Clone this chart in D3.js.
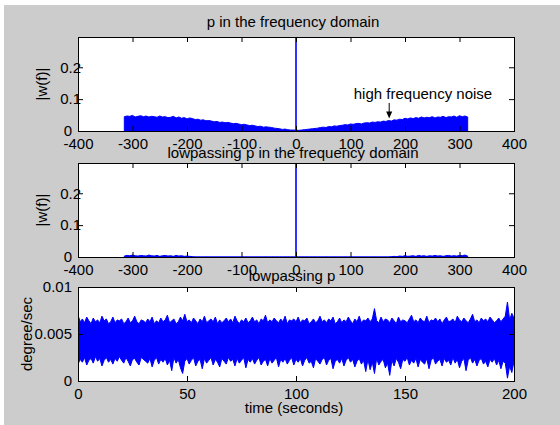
<!DOCTYPE html>
<html>
<head>
<meta charset="utf-8">
<script src="https://cdn.jsdelivr.net/npm/d3@7"></script>
<style>
  body { margin: 0; background: #fff; }
  svg { display: block; font-family: "Liberation Sans", Arial, sans-serif; }
</style>
</head>
<body>
<script>
// ---- data ----
// |w(f)| of p, every 5 Hz going out from 0 (f = 5, 10, ... 315)
const specPos = [
  .002, .003, .004, .005, .006, .007, .008, .009, .011, .012,
  .011, .014, .013, .016, .015, .017, .018, .020, .019, .022,
  .021, .023, .024, .022, .025, .026, .025, .028, .027, .029,
  .028, .031, .030, .033, .031, .035, .034, .037, .036, .040,
  .038, .041, .039, .042, .040, .044, .041, .043, .042, .045,
  .041, .044, .043, .046, .042, .045, .044, .047, .043, .048,
  .045, .047, .044
];
const specNeg = [
  .003, .003, .004, .006, .005, .007, .008, .009, .011, .012,
  .013, .012, .015, .014, .016, .018, .017, .019, .021, .020,
  .022, .024, .023, .025, .027, .026, .028, .027, .030, .029,
  .031, .033, .032, .035, .034, .037, .036, .039, .041, .038,
  .042, .040, .044, .041, .046, .043, .042, .045, .044, .047,
  .043, .045, .046, .044, .047, .045, .048, .046, .044, .049,
  .046, .047, .045
];
// after lowpass, same frequency grid
const lowPos = [
  0, 0, 0, 0, 0, 0, 0, 0, 0, 0,
  0, 0, 0, 0, 0, 0, 0, 0, 0, 0,
  0, 0, 0, 0, 0, 0, 0, 0, 0, 0,
  0, 0, 0, 0, .001, .002, .001, .003, .002, .004,
  .002, .003, .004, .002, .005, .003, .004, .002, .004, .003,
  .005, .003, .004, .002, .004, .005, .003, .004, .003, .005,
  .004, .006, .003
];
const lowNeg = [
  0, 0, 0, 0, 0, 0, 0, 0, 0, 0,
  0, 0, 0, 0, 0, 0, 0, 0, 0, 0,
  0, 0, 0, 0, 0, 0, 0, 0, 0, 0,
  0, 0, 0, 0, 0, 0, 0, .001, .002, .003,
  .002, .004, .003, .005, .002, .004, .003, .005, .004, .002,
  .005, .003, .004, .006, .003, .004, .005, .003, .004, .006,
  .004, .005, .003
];
const dcPeak = 0.62;   // spike at f = 0, runs off the top

// lowpassing p, band edges per second (t = 0 .. 200)
const hiVals = [
  .0070, .0063, .0066, .0062, .0068, .0064, .0061, .0067, .0063, .0065,
  .0062, .0069, .0064, .0066, .0061, .0063, .0068, .0062, .0065, .0064,
  .0066, .0061, .0063, .0067, .0062, .0064, .0069, .0063, .0061, .0065,
  .0064, .0062, .0066, .0063, .0068, .0061, .0064, .0062, .0067, .0063,
  .0065, .0070, .0062, .0064, .0066, .0061, .0063, .0068, .0064, .0071,
  .0063, .0065, .0062, .0067, .0064, .0061, .0066, .0063, .0069, .0062,
  .0064, .0066, .0063, .0068, .0061, .0065, .0062, .0064, .0067, .0063,
  .0066, .0062, .0069, .0064, .0061, .0065, .0063, .0067, .0062, .0064,
  .0068, .0063, .0065, .0061, .0066, .0064, .0070, .0062, .0065, .0063,
  .0067, .0064, .0062, .0066, .0063, .0069, .0061, .0065, .0064, .0066,
  .0063, .0068, .0062, .0065, .0064, .0067, .0061, .0063, .0066, .0062,
  .0064, .0069, .0063, .0065, .0062, .0066, .0064, .0068, .0061, .0063,
  .0067, .0062, .0065, .0063, .0068, .0064, .0061, .0066, .0063, .0069,
  .0062, .0065, .0064, .0067, .0063, .0066, .0077, .0064, .0062, .0068,
  .0063, .0066, .0065, .0062, .0067, .0064, .0061, .0068, .0063, .0065,
  .0064, .0062, .0066, .0070, .0063, .0065, .0062, .0067, .0064, .0063,
  .0069, .0062, .0065, .0064, .0067, .0063, .0066, .0061, .0065, .0068,
  .0063, .0064, .0066, .0062, .0069, .0065, .0063, .0067, .0064, .0062,
  .0066, .0071, .0063, .0065, .0062, .0067, .0064, .0066, .0063, .0068,
  .0065, .0062, .0064, .0067, .0063, .0066, .0069, .0084, .0065, .0072,
  .0067
];
const loVals = [
  .0018, .0023, .0020, .0025, .0017, .0022, .0024, .0019, .0026, .0021,
  .0024, .0016, .0022, .0025, .0020, .0023, .0018, .0024, .0021, .0026,
  .0022, .0019, .0025, .0021, .0016, .0023, .0024, .0020, .0017, .0025,
  .0023, .0021, .0019, .0024, .0015, .0022, .0025, .0018, .0023, .0020,
  .0024, .0017, .0022, .0011, .0025, .0019, .0023, .0014, .0008, .0021,
  .0024, .0018, .0022, .0025, .0016, .0021, .0023, .0013, .0024, .0019,
  .0022, .0025, .0017, .0023, .0020, .0015, .0024, .0021, .0018, .0025,
  .0021, .0023, .0016, .0024, .0019, .0022, .0025, .0014, .0023, .0020,
  .0024, .0018, .0022, .0025, .0017, .0021, .0023, .0016, .0024, .0019,
  .0022, .0025, .0015, .0023, .0020, .0024, .0018, .0022, .0025, .0017,
  .0023, .0020, .0024, .0016, .0022, .0025, .0019, .0021, .0014, .0024,
  .0021, .0018, .0023, .0025, .0017, .0022, .0024, .0013, .0021, .0023,
  .0019, .0024, .0016, .0022, .0025, .0020, .0023, .0015, .0021, .0024,
  .0018, .0022, .0010, .0023, .0012, .0020, .0008, .0024, .0017, .0021,
  .0023, .0014, .0019, .0006, .0022, .0016, .0024, .0020, .0013, .0023,
  .0021, .0025, .0017, .0022, .0019, .0024, .0015, .0023, .0020, .0018,
  .0024, .0013, .0022, .0025, .0018, .0021, .0023, .0016, .0024, .0020,
  .0022, .0017, .0025, .0019, .0023, .0014, .0021, .0024, .0011, .0022,
  .0025, .0019, .0023, .0016, .0022, .0024, .0018, .0021, .0015, .0023,
  .0020, .0024, .0017, .0022, .0013, .0021, .0019, .0003, .0016, .0009,
  .0021
];

const freqTicks = [-400, -300, -200, -100, 0, 100, 200, 300, 400];
const magTicks = [0, 0.1, 0.2];
const timeTicks = [0, 50, 100, 150, 200];
const rateTicks = [0, 0.005, 0.01];

const titles = ['p in the frequency domain', 'lowpassing p in the frequency domain', 'lowpassing p'];
const noteText = 'high frequency noise';
const note = { x: 106, y: 0.1, arrowF: 171, arrowFrom: 0.088, arrowTo: 0.039 };

// ---- layout ----
const W = 560, H = 425;
const left = 78, right = 514;
const fs = 15;

const svg = d3.select('body').append('svg')
  .attr('width', W)
  .attr('height', H);

svg.append('rect')
  .attr('x', 4).attr('y', 5)
  .attr('width', W - 4).attr('height', H - 5)
  .attr('fill', '#cccccc');

const xf = d3.scaleLinear().domain([-400, 400]).range([left, right]);
const xt = d3.scaleLinear().domain([0, 200]).range([left, right]);
const y1 = d3.scaleLinear().domain([0, 0.295]).range([131, 37]);
const y2 = d3.scaleLinear().domain([0, 0.295]).range([257, 163]);
const y3 = d3.scaleLinear().domain([0, 0.01]).range([381, 287]);

function spectrum(pos, neg) {
  const pts = neg.map((v, i) => ({ f: -(i + 1) * 5, v })).reverse();
  pos.forEach((v, i) => pts.push({ f: (i + 1) * 5, v }));
  return pts;
}

// white axes box + clip
function panel(id, x, y) {
  const [x0, x1] = x.range();
  const [yb, yt] = y.range();
  svg.append('rect')
    .attr('x', x0).attr('y', yt)
    .attr('width', x1 - x0).attr('height', yb - yt)
    .attr('fill', '#fff');
  svg.append('clipPath').attr('id', id)
    .append('rect')
    .attr('x', x0).attr('y', yt)
    .attr('width', x1 - x0).attr('height', yb - yt);
  return svg.append('g').attr('clip-path', `url(#${id})`);
}

function axes(x, y, xticks, yticks, shiftY) {
  const [x0, x1] = x.range();
  const [yb, yt] = y.range();
  const fmt = d => String(d);

  const gb = svg.append('g')
    .attr('transform', `translate(0,${yb})`)
    .call(d3.axisBottom(x).tickValues(xticks).tickFormat(fmt)
      .tickSizeInner(-5).tickSizeOuter(0).tickPadding(7));
  svg.append('g')
    .attr('transform', `translate(0,${yt})`)
    .call(d3.axisTop(x).tickValues(xticks).tickFormat('')
      .tickSizeInner(-5).tickSizeOuter(0));
  const gl = svg.append('g')
    .attr('transform', `translate(${x0},0)`)
    .call(d3.axisLeft(y).tickValues(yticks).tickFormat(fmt)
      .tickSizeInner(-5).tickSizeOuter(0).tickPadding(6));
  svg.append('g')
    .attr('transform', `translate(${x1},0)`)
    .call(d3.axisRight(y).tickValues(yticks).tickFormat('')
      .tickSizeInner(-5).tickSizeOuter(0));

  svg.selectAll('.domain').remove();
  svg.selectAll('.tick line').attr('stroke', '#000');
  svg.selectAll('.tick text')
    .attr('fill', '#000')
    .style('font-size', fs + 'px')
    .style('font-family', '"Liberation Sans", Arial, sans-serif');
  if (shiftY) {
    gl.selectAll('.tick text').filter(d => d !== 0).attr('x', 3);
  }

  svg.append('rect')
    .attr('x', x0 + 0.5).attr('y', yt + 0.5)
    .attr('width', x1 - x0).attr('height', yb - yt)
    .attr('fill', 'none')
    .attr('stroke', '#000');
}

function label(txt, x, y, rot) {
  svg.append('text')
    .attr('transform', `translate(${x},${y})` + (rot ? ' rotate(-90)' : ''))
    .attr('text-anchor', 'middle')
    .style('font-size', fs + 'px')
    .attr('fill', '#000')
    .text(txt);
}

// ---- plot 1: p in the frequency domain ----
const g1 = panel('c1', xf, y1);
const s1 = spectrum(specPos, specNeg);
g1.append('path')
  .datum(s1)
  .attr('fill', '#0000ff')
  .attr('stroke', '#0000ff')
  .attr('stroke-width', 1)
  .attr('d', d3.area().x(d => xf(d.f)).y0(y1(0)).y1(d => y1(d.v)));
g1.append('line')
  .attr('x1', xf(0)).attr('x2', xf(0))
  .attr('y1', y1(0)).attr('y2', y1(dcPeak))
  .attr('stroke', '#0000ff')
  .attr('stroke-width', 1.6);

// ---- plot 2: lowpassing p in the frequency domain ----
const g2 = panel('c2', xf, y2);
const s2 = spectrum(lowPos, lowNeg);
g2.append('path')
  .datum(s2)
  .attr('fill', '#0000ff')
  .attr('stroke', '#0000ff')
  .attr('stroke-width', 1)
  .attr('d', d3.area().x(d => xf(d.f)).y0(y2(0)).y1(d => y2(d.v)));
g2.append('line')
  .attr('x1', xf(0)).attr('x2', xf(0))
  .attr('y1', y2(0)).attr('y2', y2(dcPeak))
  .attr('stroke', '#0000ff')
  .attr('stroke-width', 1.6);

// ---- plot 3: lowpassing p (time) ----
const g3 = panel('c3', xt, y3);
const band = hiVals.map((h, i) => ({ t: i, hi: h, lo: loVals[i] }));
g3.append('path')
  .datum(band)
  .attr('fill', '#0000ff')
  .attr('d', d3.area().x(d => xt(d.t)).y0(d => y3(d.lo)).y1(d => y3(d.hi)));
['hi', 'lo'].forEach(k => {
  g3.append('path')
    .datum(band)
    .attr('fill', 'none')
    .attr('stroke', '#0000ff')
    .attr('stroke-width', 1)
    .attr('d', d3.line().x(d => xt(d.t)).y(d => y3(d[k])));
});

// axes on top of data
axes(xf, y1, freqTicks, magTicks, true);
axes(xf, y2, freqTicks, magTicks, true);
axes(xt, y3, timeTicks, rateTicks, false);

// annotation
svg.append('text')
  .attr('x', xf(note.x)).attr('y', y1(note.y))
  .style('font-size', fs + 'px')
  .attr('fill', '#000')
  .text(noteText);
const ax = xf(note.arrowF);
const tip = y1(note.arrowTo);
svg.append('line')
  .attr('x1', ax).attr('x2', ax)
  .attr('y1', y1(note.arrowFrom)).attr('y2', tip - 6)
  .attr('stroke', '#000');
svg.append('path')
  .attr('d', `M${ax - 3},${tip - 7}L${ax + 3},${tip - 7}L${ax},${tip}Z`)
  .attr('fill', '#000');

// titles and axis labels
label(titles[0], 293, 27);
label(titles[1], 293, 158);
label(titles[2], 292, 281);
label('|w(f)|', 47, 84, true);
label('|w(f)|', 47, 210, true);
label('degree/sec', 32, 334, true);
label('time (seconds)', 294, 413);
</script>
</body>
</html>
